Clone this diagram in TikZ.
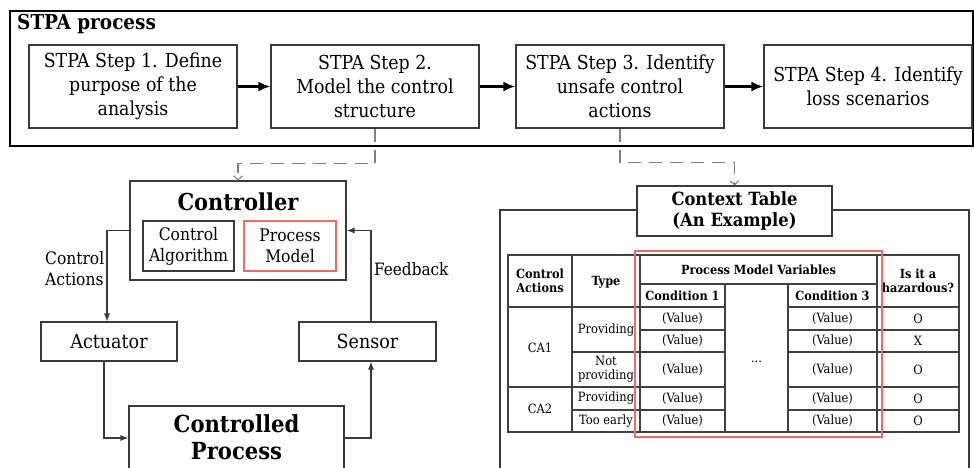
\documentclass[tikz,border=0pt]{standalone}
\usepackage{fontspec}
\setmainfont{DejaVu Serif Condensed}
\usetikzlibrary{arrows.meta}
\definecolor{lineg}{HTML}{3A3A3A}
\definecolor{pmred}{HTML}{F06A6A}
\tikzset{
  stepbox/.style={draw=lineg, line width=1.1pt, inner sep=0pt, align=center,
    font=\fontsize{19.3}{24}\selectfont},
  plainbox/.style={draw=lineg, line width=1.1pt, inner sep=0pt, align=center, fill=white},
  redbox/.style={draw=pmred, line width=1.1pt, inner sep=0pt, align=center},
  steparr/.style={line width=2.8pt, -{Latex[length=12pt,width=10pt]}},
  arr/.style={draw=lineg, line width=1.1pt, -{Latex[length=8pt,width=6pt]}},
  dasharr/.style={draw=gray, line width=1.5pt, dash pattern=on 13pt off 8pt,
    -{Straight Barb[length=4pt,width=9pt,line width=1pt]}},
  tline/.style={draw=black!75, line width=1.3pt},
  th/.style={inner sep=0pt, align=center, font=\bfseries\fontsize{12.6}{14}\selectfont},
  td/.style={inner sep=0pt, align=center, font=\fontsize{12.8}{14}\selectfont},
}
\begin{document}
\begin{tikzpicture}[x=1pt, y=-1pt]
\useasboundingbox (0,0) rectangle (974,468);
\clip (0,0) rectangle (974,468);

% ---------- STPA process band ----------
\draw[line width=2pt] (10,11) rectangle (973,146);
\node[anchor=west, inner sep=0pt, font=\bfseries\fontsize{20.5}{24}\selectfont] (title) at (17,24) {STPA process};

\node[stepbox, minimum width=208pt, minimum height=83pt] (s1) at (133,86.5) {STPA Step 1. Define\\purpose of the\\analysis};
\node[stepbox, minimum width=208pt, minimum height=83pt] (s2) at (375,86.5) {STPA Step 2.\\Model the control\\structure};
\node[stepbox, minimum width=208pt, minimum height=83pt] (s3) at (620,86.5) {STPA Step 3. Identify\\unsafe control\\actions};
\node[stepbox, minimum width=208pt, minimum height=83pt] (s4) at (868,86.5) {STPA Step 4. Identify\\loss scenarios};

\draw[steparr] (s1) -- (s2);
\draw[steparr] (s2) -- (s3);
\draw[steparr] (s3) -- (s4);

% ---------- control structure ----------
\node[plainbox, minimum width=216pt, minimum height=99pt] (ctrl) at (238,230.5) {};
\node[inner sep=0pt, font=\bfseries\fontsize{23.3}{26}\selectfont] (ctrlt) at (238,202) {Controller};
\node[plainbox, minimum width=91pt, minimum height=50pt, font=\fontsize{17.3}{21}\selectfont] (alg) at (188.5,246) {Control\\Algorithm};
\node[redbox, minimum width=92pt, minimum height=50pt, font=\fontsize{17.3}{21}\selectfont] (pm) at (290,246) {Process\\Model};

\node[plainbox, minimum width=136pt, minimum height=39pt, font=\fontsize{19.5}{22}\selectfont] (act) at (109,341.5) {Actuator};
\node[plainbox, minimum width=137pt, minimum height=39pt, font=\fontsize{19.5}{22}\selectfont] (sens) at (367.5,341.5) {Sensor};
\node[plainbox, minimum width=215pt, minimum height=64pt] (cp) at (236.5,438) {};
\node[inner sep=0pt, align=center, font=\bfseries\fontsize{23.5}{27}\selectfont] (cpt) at (236.5,437) {Controlled\\Process};

\draw[arr] (ctrl.west) -| ([xshift=-2pt]act.north);
\draw[arr] ([xshift=-5pt]act.south) |- (cp.west);
\draw[arr] (cp.east) -| ([xshift=3.5pt]sens.south);
\draw[arr] ([xshift=3.5pt]sens.north) |- (ctrl.east);

\node[anchor=west, inner sep=0pt, align=left, font=\fontsize{17.2}{21}\selectfont] (calab) at (45,269) {Control\\Actions};
\node[anchor=west, inner sep=0pt, font=\fontsize{17}{20}\selectfont] (fblab) at (374,269) {Feedback};

\draw[dasharr] (s2.south) -- ++(0,35) -| (ctrlt |- ctrl.north);

% ---------- context table ----------
\draw[line width=1.1pt, draw=lineg] (500,520) -- (500,210) -- (969,210) -- (969,520);
\node[plainbox, minimum width=195pt, minimum height=50pt, font=\bfseries\fontsize{18.2}{21}\selectfont] (ctx) at (734.5,211) {Context Table\\(An Example)};
\draw[dasharr] (s3.south) -- ++(0,34) -| (ctx.north);

% table rules
\draw[tline] (508,255) rectangle (959,432);
\draw[tline] (572,255) -- (572,432);
\draw[tline] (640,255) -- (640,432);
\draw[tline] (877,255) -- (877,432);
\draw[tline] (725,284) -- (725,432);
\draw[tline] (788,284) -- (788,432);
\draw[tline] (640,284) -- (877,284);
\draw[tline] (508,307) -- (725,307) (788,307) -- (959,307);
\draw[tline] (640,330) -- (725,330) (788,330) -- (959,330);
\draw[tline] (572,352) -- (725,352) (788,352) -- (959,352);
\draw[tline] (508,387) -- (725,387) (788,387) -- (959,387);
\draw[tline] (572,410) -- (725,410) (788,410) -- (959,410);

% header
\node[th] (hca) at (540,281) {Control\\Actions};
\node[th] (hty) at (606,282) {Type};
\node[th] (hpm) at (758.5,269.5) {Process Model Variables};
\node[th] (hc1) at (682.5,296) {Condition 1};
\node[th] (hc3) at (832.5,296) {Condition 3};
\node[th] (hhz) at (918,281) {Is it a\\hazardous?};

% body
\node[td] (ca1) at (540,348) {CA1};
\node[td] (ca2) at (540,409) {CA2};
\node[td] (t1) at (606,330) {Providing};
\node[td] (t2) at (606,369.5) {Not\\providing};
\node[td] (t3) at (606,398.5) {Providing};
\node[td] (t4) at (606,421) {Too early};
\foreach \yy [count=\i] in {318.5,341,369.5,398.5,421}{
  \node[td] (va\i) at (682.5,\yy) {(Value)};
  \node[td] (vb\i) at (832.5,\yy) {(Value)};
}
\node[td] (hz1) at (918,318.5) {O};
\node[td] (hz2) at (918,341) {X};
\node[td] (hz3) at (918,369.5) {O};
\node[td] (hz4) at (918,398.5) {O};
\node[td] (hz5) at (918,421) {O};
\node[td] (dots) at (756.5,362) {...};

% process model variables highlight
\draw[draw=pmred, line width=1.1pt] (635,251) rectangle (882,437);
\end{tikzpicture}
\end{document}
